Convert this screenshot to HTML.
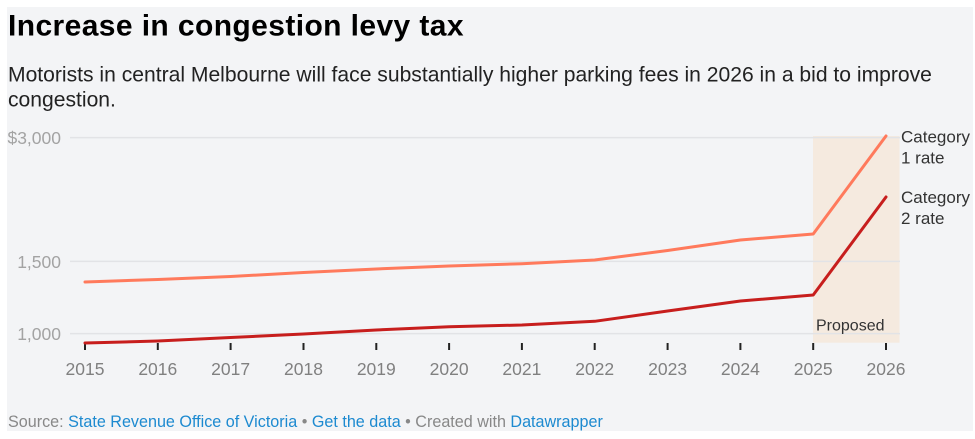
<!DOCTYPE html>
<html><head><meta charset="utf-8"><style>
html,body{margin:0;padding:0;background:#fff;}
body{width:975px;height:439px;overflow:hidden;position:relative;font-family:"Liberation Sans",Arial,sans-serif;}
svg{position:absolute;left:0;top:0;}
</style></head><body>
<svg width="975" height="439" viewBox="0 0 975 439" xmlns="http://www.w3.org/2000/svg" font-family="Liberation Sans, Arial, sans-serif">
<rect x="7" y="7" width="966" height="424" fill="#f3f4f6"/>
<text x="8" y="35.5" font-size="30" font-weight="bold" fill="#000" letter-spacing="0.4">Increase in congestion levy tax</text>
<text x="8" y="81.7" font-size="21.1" fill="#222">Motorists in central Melbourne will face substantially higher parking fees in 2026 in a bid to improve</text>
<text x="8" y="106.7" font-size="21.1" fill="#222">congestion.</text>
<!-- shade -->
<rect x="813" y="136" width="86.5" height="206.7" fill="#f5eadf"/>
<!-- grid -->
<g stroke="#e2e3e6" stroke-width="1.5">
<line x1="70" y1="137.6" x2="900" y2="137.6"/>
<line x1="70" y1="261.4" x2="900" y2="261.4"/>
<line x1="70" y1="333.6" x2="900" y2="333.6"/>
</g>
<g font-size="17.5" fill="#a3a3a3" text-anchor="end">
<text x="61" y="144">$3,000</text>
<text x="61" y="268">1,500</text>
<text x="61" y="340">1,000</text>
</g>
<text x="816" y="330.7" font-size="16" fill="#333">Proposed</text>
<!-- ticks -->
<g stroke="#222" stroke-width="2">
<line x1="85" y1="343" x2="85" y2="350"/>
<line x1="157.8" y1="343" x2="157.8" y2="350"/>
<line x1="230.6" y1="343" x2="230.6" y2="350"/>
<line x1="303.5" y1="343" x2="303.5" y2="350"/>
<line x1="376.3" y1="343" x2="376.3" y2="350"/>
<line x1="449.1" y1="343" x2="449.1" y2="350"/>
<line x1="521.9" y1="343" x2="521.9" y2="350"/>
<line x1="594.7" y1="343" x2="594.7" y2="350"/>
<line x1="667.6" y1="343" x2="667.6" y2="350"/>
<line x1="740.4" y1="343" x2="740.4" y2="350"/>
<line x1="813.2" y1="343" x2="813.2" y2="350"/>
<line x1="886" y1="343" x2="886" y2="350"/>
</g>
<g font-size="17.5" fill="#808080" text-anchor="middle">
<text x="85" y="375">2015</text>
<text x="157.8" y="375">2016</text>
<text x="230.6" y="375">2017</text>
<text x="303.5" y="375">2018</text>
<text x="376.3" y="375">2019</text>
<text x="449.1" y="375">2020</text>
<text x="521.9" y="375">2021</text>
<text x="594.7" y="375">2022</text>
<text x="667.6" y="375">2023</text>
<text x="740.4" y="375">2024</text>
<text x="813.2" y="375">2025</text>
<text x="886" y="375">2026</text>
</g>
<!-- lines -->
<polyline fill="none" stroke="#ff7a5c" stroke-width="3" stroke-linejoin="round" stroke-linecap="round"
 points="85,282 157.8,279.5 230.6,276.5 303.5,272.5 376.3,269 449.1,266 521.9,263.7 594.7,260 667.6,250.5 740.4,240 813.2,234 886,136"/>
<polyline fill="none" stroke="#c71e1d" stroke-width="3" stroke-linejoin="round" stroke-linecap="round"
 points="85,343 157.8,341 230.6,337.5 303.5,334 376.3,330 449.1,326.7 521.9,325 594.7,321.3 667.6,311 740.4,301 813.2,295 886,197"/>
<g font-size="17" fill="#333">
<text x="901" y="142.5">Category</text>
<text x="901" y="163.5">1 rate</text>
<text x="901" y="203">Category</text>
<text x="901" y="224">2 rate</text>
</g>
<text x="8" y="427" font-size="16.15" fill="#888"><tspan>Source: </tspan><tspan fill="#1d8ad0">State Revenue Office of Victoria</tspan><tspan> • </tspan><tspan fill="#1d8ad0">Get the data</tspan><tspan> • Created with </tspan><tspan fill="#1d8ad0">Datawrapper</tspan></text>
</svg>
</body></html>
